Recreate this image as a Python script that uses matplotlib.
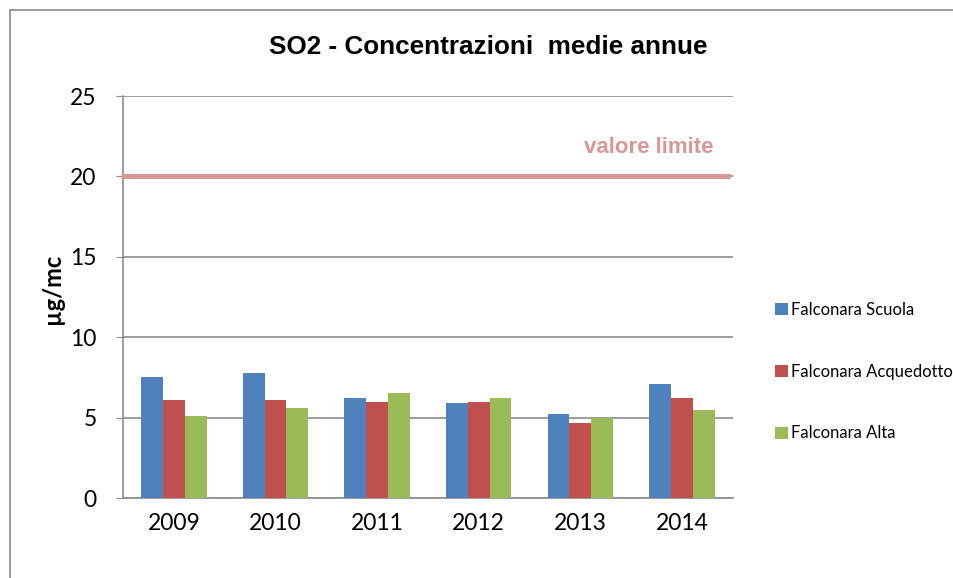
import matplotlib.pyplot as plt
import matplotlib.patches as mpatches
import numpy as np

years = ['2009', '2010', '2011', '2012', '2013', '2014']
scuola = [7.5, 7.75, 6.25, 5.9, 5.25, 7.1]
acquedotto = [6.1, 6.1, 6.0, 6.0, 4.65, 6.25]
alta = [5.1, 5.6, 6.5, 6.25, 5.0, 5.5]
series_names = ['Falconara Scuola', 'Falconara Acquedotto', 'Falconara Alta']
limit = 20

colors = ['#4F81BD', '#C0504D', '#9BBB59']
grid_col = '#8C8C8C'
pink = '#DA9694'

fig = plt.figure(figsize=(9.54, 5.78), dpi=100)
ax = fig.add_axes([0.129, 0.1384, 0.639, 0.6955])

# outer chart border
fig.patches.append(mpatches.Rectangle((10 / 954, -0.01), 1.0, 1 - 10 / 578 + 0.01,
                                      transform=fig.transFigure, fill=False,
                                      edgecolor=grid_col, linewidth=1.2))

x = np.arange(len(years))
w = 0.215
for i, vals in enumerate([scuola, acquedotto, alta]):
    ax.bar(x + (i - 1) * w, vals, width=w, color=colors[i], label=series_names[i], zorder=3)

# limit line
ax.plot([-0.52, 5.47], [limit, limit], color=pink, linewidth=3.6, zorder=4,
        clip_on=False, solid_capstyle='butt')
ax.text(4.67, 21.8, 'valore limite', color=pink, fontsize=16, fontweight='bold',
        family='Liberation Sans', ha='center', va='center')

ax.set_xlim(-0.5, 5.5)
ax.set_ylim(0, 25)
ax.set_yticks([0, 5, 10, 15, 20, 25])
ax.yaxis.grid(True, color=grid_col, linewidth=1.2, zorder=0)
ax.set_axisbelow(True)
for s in ['top', 'right']:
    ax.spines[s].set_visible(False)
for s in ['left', 'bottom']:
    ax.spines[s].set_color(grid_col)
    ax.spines[s].set_linewidth(1.2)
ax.set_xticks(x)
ax.set_xticklabels(years, fontsize=16.5, family='Lato')
for lab in ax.get_yticklabels():
    lab.set_fontsize(16.5)
    lab.set_family('Lato')
ax.tick_params(axis='x', length=0, pad=11)
ax.tick_params(axis='y', length=5, color=grid_col, pad=14)

ax.set_ylabel('µg/mc', fontsize=17, fontweight='bold', family='Lato', va='center')
ax.yaxis.set_label_coords(-0.116, 0.52)

fig.text(0.512, 0.918, 'SO2 - Concentrazioni  medie annue', fontsize=18.8, fontweight='bold',
         family='Liberation Sans', ha='center', va='center')

leg = fig.legend(loc='center left', bbox_to_anchor=(0.797, 0.357), frameon=False,
                 prop={'family': 'Lato', 'size': 12}, handlelength=0.75, handleheight=0.75,
                 handletextpad=0.2, labelspacing=2.75)

fig.savefig('out.png', dpi=100)
